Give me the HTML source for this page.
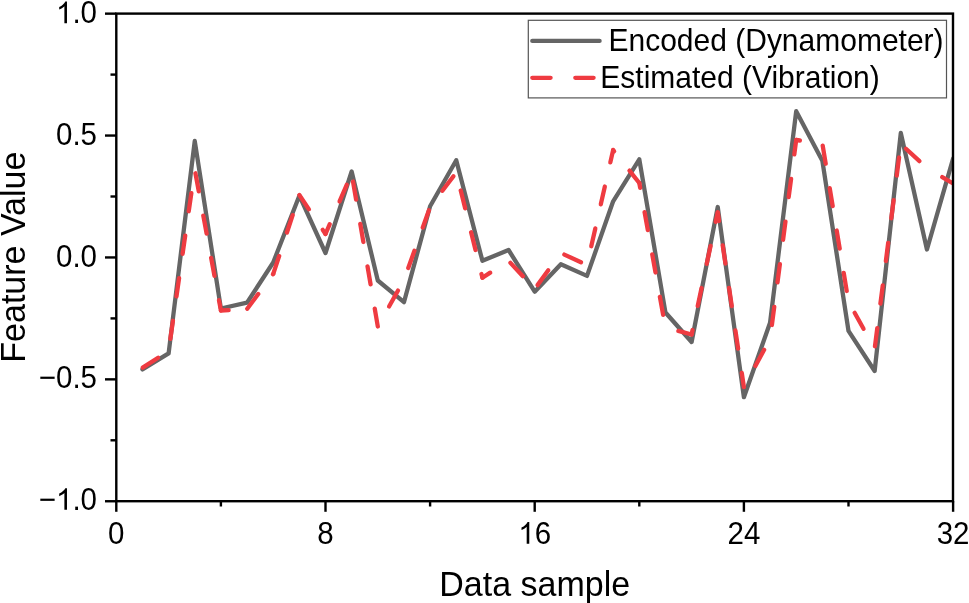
<!DOCTYPE html>
<html><head><meta charset="utf-8"><style>
html,body{margin:0;padding:0;background:#fff;}
body{width:969px;height:603px;overflow:hidden;}
svg{display:block;will-change:transform;font-family:"Liberation Sans",sans-serif;}
</style></head><body>
<svg width="969" height="603" viewBox="0 0 969 603">
<rect width="969" height="603" fill="#fff"/>
<defs><clipPath id="c"><rect x="116.3" y="13.6" width="836.70" height="487.60"/></clipPath></defs>
<g clip-path="url(#c)" fill="none" stroke-linejoin="round" stroke-linecap="round">
<polyline points="142.45,369.40 168.60,353.40 194.75,141.00 220.90,308.50 247.05,302.70 273.20,262.50 299.35,195.70 325.50,253.00 351.65,171.50 377.80,280.50 403.95,302.20 430.10,206.30 456.25,160.20 482.40,260.80 508.55,250.00 534.70,291.70 560.85,264.20 587.00,275.90 613.15,201.30 639.30,159.30 665.45,312.50 691.60,342.00 717.75,207.00 743.90,397.20 770.05,322.80 796.20,111.20 822.35,160.70 848.50,330.80 874.65,371.00 900.80,133.00 926.95,249.50 953.10,158.50" stroke="#656565" stroke-width="4.3"/>
<g stroke="#ef3b41" stroke-width="4.3" stroke-dasharray="18.3 24.7"><line x1="142.45" y1="367.80" x2="168.60" y2="351.00" stroke-dashoffset="42.69"/><line x1="168.60" y1="351.00" x2="194.75" y2="169.50" stroke-dashoffset="30.77"/><line x1="194.75" y1="169.50" x2="220.90" y2="310.50" stroke-dashoffset="39.16"/><line x1="220.90" y1="310.50" x2="247.05" y2="309.00" stroke-dashoffset="10.56"/><line x1="247.05" y1="309.00" x2="273.20" y2="274.00" stroke-dashoffset="42.65"/><line x1="273.20" y1="274.00" x2="299.35" y2="195.00" stroke-dashoffset="42.32"/><line x1="299.35" y1="195.00" x2="325.50" y2="234.00" stroke-dashoffset="1.04"/><line x1="325.50" y1="234.00" x2="351.65" y2="173.50" stroke-dashoffset="7.55"/><line x1="351.65" y1="173.50" x2="377.80" y2="326.50" stroke-dashoffset="34.84"/><line x1="377.80" y1="326.50" x2="403.95" y2="280.00" stroke-dashoffset="20.03"/><line x1="403.95" y1="280.00" x2="430.10" y2="207.00" stroke-dashoffset="30.21"/><line x1="430.10" y1="207.00" x2="456.25" y2="172.50" stroke-dashoffset="22.64"/><line x1="456.25" y1="172.50" x2="482.40" y2="277.70" stroke-dashoffset="24.42"/><line x1="482.40" y1="277.70" x2="508.55" y2="260.80" stroke-dashoffset="8.98"/><line x1="508.55" y1="260.80" x2="534.70" y2="289.00" stroke-dashoffset="40.21"/><line x1="534.70" y1="289.00" x2="560.85" y2="253.00" stroke-dashoffset="38.21"/><line x1="560.85" y1="253.00" x2="587.00" y2="265.00" stroke-dashoffset="39.16"/><line x1="587.00" y1="265.00" x2="613.15" y2="150.00" stroke-dashoffset="23.77"/><line x1="613.15" y1="150.00" x2="639.30" y2="183.00" stroke-dashoffset="16.72"/><line x1="639.30" y1="183.00" x2="665.45" y2="327.50" stroke-dashoffset="13.39"/><line x1="665.45" y1="327.50" x2="691.60" y2="334.50" stroke-dashoffset="29.68"/><line x1="691.60" y1="334.50" x2="717.75" y2="212.40" stroke-dashoffset="13.75"/><line x1="717.75" y1="212.40" x2="743.90" y2="387.00" stroke-dashoffset="9.62"/><line x1="743.90" y1="387.00" x2="770.05" y2="339.00" stroke-dashoffset="18.98"/><line x1="770.05" y1="339.00" x2="796.20" y2="140.00" stroke-dashoffset="28.86"/><line x1="796.20" y1="140.00" x2="822.35" y2="143.50" stroke-dashoffset="14.57"/><line x1="822.35" y1="143.50" x2="848.50" y2="301.80" stroke-dashoffset="40.82"/><line x1="848.50" y1="301.80" x2="874.65" y2="348.80" stroke-dashoffset="30.40"/><line x1="874.65" y1="348.80" x2="900.80" y2="144.00" stroke-dashoffset="40.47"/><line x1="900.80" y1="144.00" x2="926.95" y2="168.00" stroke-dashoffset="35.97"/><line x1="926.95" y1="168.00" x2="953.10" y2="183.50" stroke-dashoffset="25.22"/></g>
</g>
<g stroke="#000" stroke-width="2.4" fill="none">
<line x1="105" y1="13.65" x2="116.3" y2="13.65"/><line x1="105" y1="135.55" x2="116.3" y2="135.55"/><line x1="105" y1="257.45" x2="116.3" y2="257.45"/><line x1="105" y1="379.35" x2="116.3" y2="379.35"/><line x1="105" y1="501.25" x2="116.3" y2="501.25"/><line x1="110.5" y1="74.60" x2="116.3" y2="74.60"/><line x1="110.5" y1="196.50" x2="116.3" y2="196.50"/><line x1="110.5" y1="318.40" x2="116.3" y2="318.40"/><line x1="110.5" y1="440.30" x2="116.3" y2="440.30"/><line x1="116.30" y1="501.2" x2="116.30" y2="511.8"/><line x1="325.50" y1="501.2" x2="325.50" y2="511.8"/><line x1="534.70" y1="501.2" x2="534.70" y2="511.8"/><line x1="743.90" y1="501.2" x2="743.90" y2="511.8"/><line x1="953.10" y1="501.2" x2="953.10" y2="511.8"/><line x1="220.90" y1="501.2" x2="220.90" y2="506.5"/><line x1="430.10" y1="501.2" x2="430.10" y2="506.5"/><line x1="639.30" y1="501.2" x2="639.30" y2="506.5"/><line x1="848.50" y1="501.2" x2="848.50" y2="506.5"/>
<rect x="116.3" y="13.6" width="836.70" height="487.60"/>
</g>
<rect x="528.3" y="20.3" width="418.2" height="77.6" fill="#fff" stroke="#555" stroke-width="1.2"/>
<line x1="532.3" y1="40.95" x2="599.6" y2="40.95" stroke="#656565" stroke-width="4.3" stroke-linecap="round"/>
<line x1="532.3" y1="77.85" x2="593.8" y2="77.85" stroke="#ef3b41" stroke-width="4.3" stroke-linecap="round" stroke-dasharray="18.3 24.7"/>
<g font-size="30" fill="#000">
<text transform="translate(608.5,51.1) scale(1,1.05)">Encoded (Dynamometer)</text>
<text transform="translate(600.3,88.1) scale(1,1.05)">Estimated (Vibration)</text>
</g>
<g font-size="29.5" fill="#000">
<path transform="translate(55.99,23.25) scale(0.014404,-0.014727)" d="M763 0H583V1147Q518 1085 412 1023T223 930V1104Q374 1175 487 1276T647 1472H763V0Z"/><text transform="translate(72.40,23.25) scale(1,1.065)">.0</text><text transform="translate(55.99,145.15) scale(1,1.065)">0.5</text><text transform="translate(55.99,267.05) scale(1,1.065)">0.0</text><text transform="translate(38.76,388.45) scale(1,1.065)">−0.5</text><text transform="translate(38.76,509.85) scale(1,1.065)">−</text><path transform="translate(55.99,509.85) scale(0.014404,-0.014727)" d="M763 0H583V1147Q518 1085 412 1023T223 930V1104Q374 1175 487 1276T647 1472H763V0Z"/><text transform="translate(72.40,509.85) scale(1,1.065)">.0</text>
<text transform="translate(108.10,543.70) scale(1,1.065)">0</text><text transform="translate(317.30,543.70) scale(1,1.065)">8</text><path transform="translate(518.29,543.70) scale(0.014404,-0.014727)" d="M763 0H583V1147Q518 1085 412 1023T223 930V1104Q374 1175 487 1276T647 1472H763V0Z"/><text transform="translate(534.70,543.70) scale(1,1.065)">6</text><text transform="translate(727.49,543.70) scale(1,1.065)">24</text><text transform="translate(936.69,543.70) scale(1,1.065)">32</text>
</g>
<g font-size="34" fill="#000">
<text transform="translate(534.7,595.9) scale(1,1.04)" text-anchor="middle">Data sample</text>
<text transform="translate(24.9,257.2) rotate(-90) scale(1,1.04)" text-anchor="middle">Feature Value</text>
</g>
</svg>
</body></html>
